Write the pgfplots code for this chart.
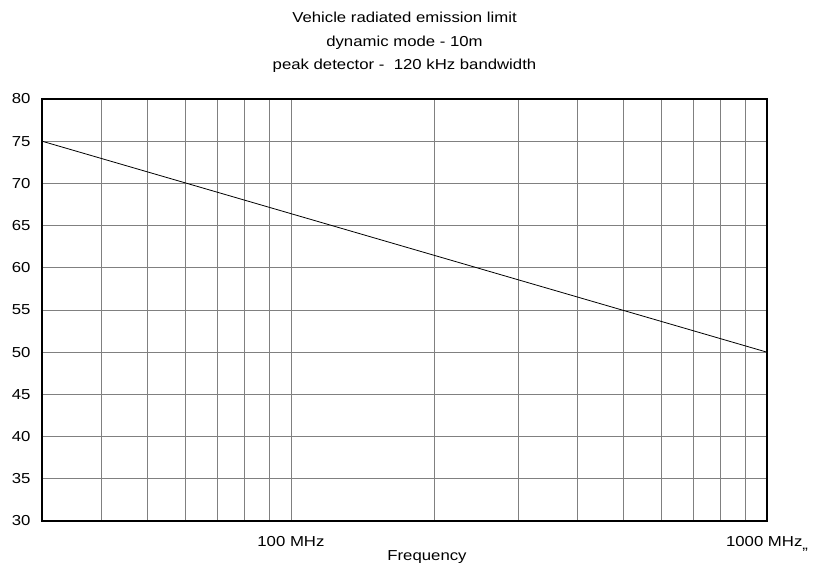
\documentclass[border=0pt]{standalone}
\usepackage{fontspec}
\setmainfont[FakeStretch=1.16]{Liberation Sans}
\usepackage{pgfplots}
\pgfplotsset{compat=1.18}
\begin{document}
\begin{tikzpicture}[x=1bp,y=1bp]
\begin{axis}[
  at={(0,0)}, anchor=south west,
  scale only axis, width=725bp, height=422bp,
  xmode=log, xmin=30, xmax=1000, ymin=30, ymax=80,
  ytick={30,35,...,80},
  xtick={100,1000},
  xticklabels={100 MHz,1000 MHz\raisebox{-2.5bp}{,,}},
  minor xtick={40,50,60,70,80,90,200,300,400,500,600,700,800,900},
  grid=both,
  major grid style={draw=black!50, line width=0.8bp},
  minor grid style={draw=black!50, line width=0.8bp},
  major tick length=0pt, minor tick length=0pt,
  axis line style={line width=1.2bp},
  tick label style={font=\fontsize{14.5}{15}\selectfont},
  yticklabel style={xshift=-8bp},
  xticklabel style={yshift=-12bp},
  /pgf/number format/assume math mode=true,
  clip=false,
]
\addplot[black, line width=0.8bp] coordinates {(30,75) (1000,50)};
\end{axis}
\useasboundingbox (-42,-45) rectangle (776,521);
\node[anchor=base, font=\fontsize{14.5}{15}\selectfont] at (385,-40) {Frequency};
\node[anchor=base, font=\fontsize{14.5}{15}\selectfont] at (362.5,498.3) {Vehicle radiated emission limit};
\node[anchor=base, font=\fontsize{14.5}{15}\selectfont] at (362.5,474.3) {dynamic mode - 10m};
\node[anchor=base, font=\fontsize{14.5}{15}\selectfont] at (362.5,451) {peak detector -\ \ 120 kHz bandwidth};
\end{tikzpicture}
\end{document}
